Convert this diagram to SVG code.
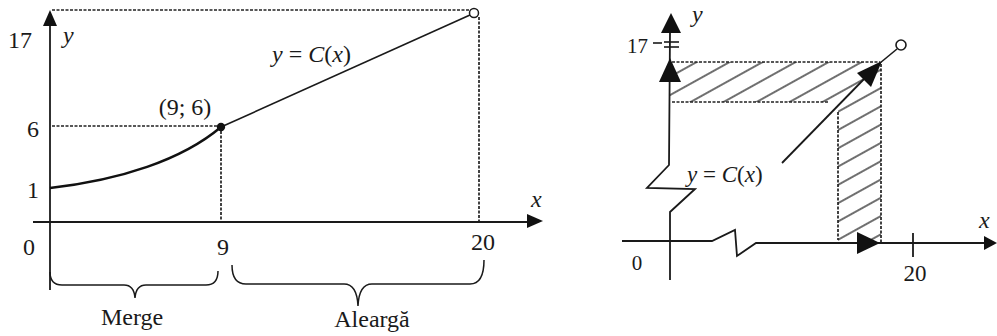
<svg xmlns="http://www.w3.org/2000/svg" width="997" height="336" viewBox="0 0 997 336">
<style>
text{font-family:'Liberation Serif','DejaVu Serif','Times New Roman',serif;fill:#1a1a1a}
.it{font-style:italic}
.ax{stroke:#1a1a1a;stroke-width:1.8;fill:none}
.dot{stroke:#222;stroke-width:1.7;fill:none;stroke-dasharray:3 1.5}
.cv{stroke:#111;stroke-width:2.4;fill:none}
.ln{stroke:#1a1a1a;stroke-width:1.6;fill:none}
.ah{fill:#111}
.br{stroke:#1a1a1a;stroke-width:1.5;fill:none}
</style>
<defs>
<pattern id="hatch" patternUnits="userSpaceOnUse" width="20" height="16" patternTransform="rotate(-29)">
<line x1="0" y1="8" x2="20" y2="8" stroke="#222" stroke-width="1.3"/>
</pattern>
<clipPath id="lclip"><polygon points="670,62 881,62 881,243 838,243 838,102 670,102"/></clipPath>
</defs>

<!-- LEFT GRAPH -->
<g id="left-axes">
<line class="ax" x1="50" y1="290" x2="50" y2="24"/>
<polygon class="ah" points="50,10 43,26 57,26"/>
<line class="ax" x1="33" y1="222" x2="530" y2="222"/>
<polygon class="ah" points="543,221 527,214 527,228"/>
</g>
<g id="left-guides">
<line class="dot" x1="52" y1="10" x2="469" y2="10"/>
<line class="dot" x1="479" y1="17" x2="479" y2="221"/>
<line class="dot" x1="52" y1="126" x2="218" y2="126"/>
<line class="dot" x1="221" y1="131" x2="221" y2="221"/>
</g>
<g id="left-curve">
<path class="cv" d="M50,188 C120,180 182,160 221,127"/>
<line class="ln" x1="221" y1="127" x2="470" y2="15"/>
<circle cx="221" cy="127" r="4.2" fill="#111"/>
<circle cx="474" cy="13" r="4.5" fill="#fff" stroke="#1a1a1a" stroke-width="1.5"/>
</g>
<g id="left-braces">
<path class="br" d="M50,272 Q50,285 62,285 L124,285 Q134,285 135,298 Q136,285 146,285 L206,285 Q218,285 218,271"/>
<path class="br" d="M232,265 Q232,284 246,284 L344,284 Q357,284 358,306 Q359,284 372,284 L470,284 Q484,284 484,260"/>
</g>
<g id="left-labels" font-size="24" font-family="Liberation Serif, DejaVu Serif, serif">
<text x="8" y="48">17</text>
<text class="it" x="63" y="43">y</text>
<text x="33" y="137" text-anchor="middle">6</text>
<text x="33" y="198" text-anchor="middle">1</text>
<text x="29" y="255" text-anchor="middle">0</text>
<text x="223" y="255" text-anchor="middle">9</text>
<text x="483" y="250" text-anchor="middle">20</text>
<text class="it" x="531" y="207">x</text>
<text x="185" y="115" text-anchor="middle">(9; 6)</text>
<text x="272" y="62"><tspan class="it">y</tspan> = <tspan class="it">C</tspan>(<tspan class="it">x</tspan>)</text>
<text x="132" y="325" text-anchor="middle">Merge</text>
<text x="372" y="327" text-anchor="middle">Aleargă</text>
</g>

<!-- RIGHT GRAPH -->
<g id="right-hatch">
<rect x="660" y="50" width="230" height="200" fill="url(#hatch)" clip-path="url(#lclip)"/>
<line class="dot" x1="672" y1="62" x2="880" y2="62"/>
<line class="dot" x1="672" y1="102" x2="828" y2="102"/>
<line class="dot" x1="838" y1="112" x2="838" y2="240"/>
<line class="dot" x1="881" y1="64" x2="881" y2="243"/>
</g>
<g id="right-axes">
<polyline class="ax" points="670,280 670,212 695,189 647,188 669,165 670,32"/>
<polygon class="ah" points="671,13 661,33 681,33"/>
<polygon class="ah" points="670,58 659,82 681,82"/>
<line class="ln" x1="653" y1="43" x2="662" y2="43"/>
<line class="ln" x1="664" y1="42" x2="679" y2="42"/>
<line class="ln" x1="664" y1="47" x2="679" y2="47"/>
<polyline class="ax" points="622,241 712,241 735,230 737,256 756,243 986,243"/>
<polygon class="ah" points="880,243 857,232 857,254"/>
<polygon class="ah" points="997,243 984,236 984,250"/>
<line class="ax" x1="913" y1="233" x2="913" y2="257"/>
</g>
<g id="right-curve">
<line class="ax" x1="782" y1="163" x2="866" y2="77"/>
<polygon class="ah" points="882,61 871,87 857,73"/>
<line class="ln" x1="880" y1="63" x2="897" y2="49"/>
<circle cx="901" cy="45" r="5" fill="#fff" stroke="#1a1a1a" stroke-width="1.6"/>
</g>
<g id="right-labels" font-family="Liberation Serif, DejaVu Serif, serif">
<text class="it" x="692" y="22" font-size="24">y</text>
<text x="627" y="53" font-size="21">17</text>
<text x="637" y="270" font-size="21" text-anchor="middle">0</text>
<text x="915" y="281" font-size="23" text-anchor="middle">20</text>
<text class="it" x="979" y="228" font-size="24">x</text>
<text x="687" y="182" font-size="23"><tspan class="it">y</tspan> = <tspan class="it">C</tspan>(<tspan class="it">x</tspan>)</text>
</g>
</svg>
